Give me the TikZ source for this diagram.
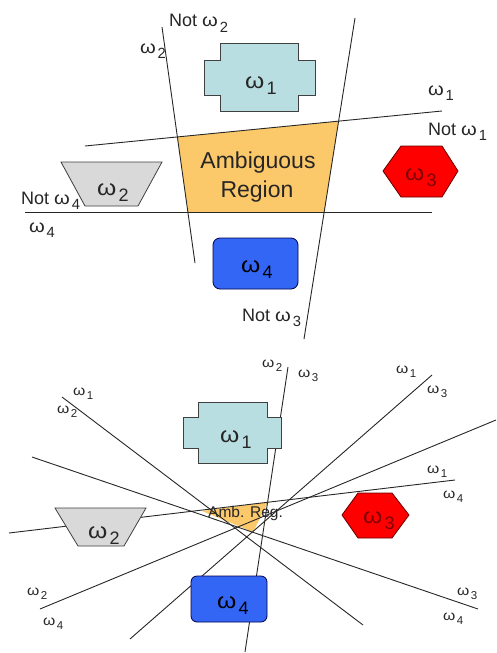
\documentclass[tikz,border=0pt]{standalone}
\usepackage{fontspec}
\setmainfont{Liberation Sans}
\usetikzlibrary{calc}
\newcommand{\ws}[1]{\scalebox{1.12}[1]{ω}\kern0.1em\raisebox{-0.55ex}{\scalebox{0.82}{#1}}}
\definecolor{lblue}{HTML}{B8DEE2}
\definecolor{lgray}{HTML}{D9D9D9}
\definecolor{ambc}{HTML}{FCC96A}
\definecolor{hexred}{HTML}{FF0000}
\definecolor{recblue}{HTML}{3366F5}
\tikzset{
  bline/.style={draw=black!85, line width=0.9pt},
  outl/.style={draw=black!75, line width=0.8pt},
  toplab/.style={anchor=base west, inner sep=0pt, font=\fontsize{18}{20}\selectfont, text=black!85},
  botlab/.style={anchor=base west, inner sep=0pt, font=\fontsize{14}{16}\selectfont, text=black!85},
  shapelab/.style={anchor=base west, inner sep=0pt, font=\fontsize{22}{24}\selectfont, text=black!85},
  c1/.style={outl, fill=lblue},
  c2/.style={outl, fill=lgray},
  c3/.style={draw=red!40!black, line width=0.8pt, fill=hexred},
  c4/.style={draw=blue!30!black, line width=0.8pt, fill=recblue, rounded corners=7pt},
  ambfill/.style={fill=ambc, draw=none},
}
\begin{document}
\begin{tikzpicture}[x=1pt,y=-1pt]
\useasboundingbox (0,0) rectangle (496,653);
% ================= TOP PART =================
\coordinate (a1) at (162,27);  \coordinate (a2) at (195,263);
\coordinate (b1) at (355,18);  \coordinate (b2) at (304,339);
\coordinate (c1) at (85,146);  \coordinate (c2) at (442,111);
\coordinate (d1) at (25,212);  \coordinate (d2) at (432,212);
\coordinate (p1) at (intersection of a1--a2 and c1--c2);
\coordinate (p2) at (intersection of b1--b2 and c1--c2);
\coordinate (p3) at (intersection of b1--b2 and d1--d2);
\coordinate (p4) at (intersection of a1--a2 and d1--d2);
\fill[ambfill] (p1) -- (p2) -- (p3) -- (p4) -- cycle;
\draw[bline] (a1) -- (a2);
\draw[bline] (b1) -- (b2);
\draw[bline] (c1) -- (c2);
\draw[bline] (d1) -- (d2);
% shapes
\draw[c1] (220,43) -- (298,43) -- (298,60) -- (315,60) -- (315,95) -- (298,95)
  -- (298,111) -- (220,111) -- (220,95) -- (204,95) -- (204,60) -- (220,60) -- cycle;
\draw[c2] (61,162) -- (162,162) -- (138,206) -- (85,206) -- cycle;
\draw[c3] (383,171) -- (401,146) -- (442,146) -- (458,171) -- (442,197) -- (401,197) -- cycle;
\draw[c4] (213,238) rectangle (298,289);
% shape labels
\node[shapelab] (tw1) at (245,88) {\ws{1}};
\node[shapelab] (tw2) at (97,195) {\ws{2}};
\node[shapelab, text=red!50!black] (tw3) at (405,180) {\ws{3}};
\node[shapelab, text=black] (tw4) at (241,272) {\ws{4}};
\node[anchor=base, inner sep=0pt, font=\fontsize{23}{25}\selectfont, text=black!85] (amb1) at (258,168) {Ambiguous};
\node[anchor=base, inner sep=0pt, font=\fontsize{23}{25}\selectfont, text=black!85] (amb2) at (257,197) {Region};
% boundary labels
\node[toplab] (tn2) at (169,27) {Not \ws{2}};
\node[toplab] (tp2) at (140,53) {\ws{2}};
\node[toplab] (tp1) at (428,95) {\ws{1}};
\node[toplab] (tn1) at (428,135) {Not \ws{1}};
\node[toplab] (tn4) at (21,204) {Not \ws{4}};
\node[toplab] (tp4) at (29,232) {\ws{4}};
\node[toplab] (tn3) at (242,321) {Not \ws{3}};
% ================= BOTTOM PART =================
\coordinate (l1a) at (288,367); \coordinate (l1b) at (245,652);
\coordinate (l2a) at (62,397);  \coordinate (l2b) at (363,625);
\coordinate (l3a) at (432,375); \coordinate (l3b) at (130,639);
\coordinate (l4a) at (496,420); \coordinate (l4b) at (40,609);
\coordinate (l5a) at (455,480); \coordinate (l5b) at (9,533);
\coordinate (l6a) at (478,609); \coordinate (l6b) at (32,457);
\fill[ambfill] (202,511) -- (268,502) -- (253,532) -- cycle;
\foreach \n in {1,...,6}{\draw[bline] (l\n a) -- (l\n b);}
% shapes
\draw[c1] (198,402) -- (267,402) -- (267,417) -- (281,417) -- (281,448) -- (267,448)
  -- (267,463) -- (198,463) -- (198,448) -- (183,448) -- (183,417) -- (198,417) -- cycle;
\draw[c2] (55,508) -- (146,508) -- (124,546) -- (78,546) -- cycle;
\draw[c3] (342,515) -- (358,493) -- (392,493) -- (409,515) -- (392,538) -- (358,538) -- cycle;
\draw[c4, rounded corners=6pt] (191,576) rectangle (267,622);
% shape labels
\node[shapelab] (bw1) at (220,442) {\ws{1}};
\node[shapelab] (bw2) at (88,538) {\ws{2}};
\node[shapelab, text=red!50!black] (bw3) at (363,523) {\ws{3}};
\node[shapelab, text=black] (bw4) at (217,608) {\ws{4}};
\node[anchor=base west, inner sep=0pt, font=\fontsize{15.5}{17}\selectfont, text=black!85] (ambr) at (208,517) {Amb. Reg.};
% boundary labels
\node[botlab] (b12a) at (262,367) {\ws{2}};
\node[botlab] (b13a) at (298,377) {\ws{3}};
\node[botlab] (b21a) at (396,373) {\ws{1}};
\node[botlab] (b23a) at (427,393) {\ws{3}};
\node[botlab] (b31a) at (73,395) {\ws{1}};
\node[botlab] (b32a) at (57,413) {\ws{2}};
\node[botlab] (b41a) at (427,473) {\ws{1}};
\node[botlab] (b44a) at (443,498) {\ws{4}};
\node[botlab] (b52a) at (27,595) {\ws{2}};
\node[botlab] (b54a) at (43,625) {\ws{4}};
\node[botlab] (b63a) at (457,595) {\ws{3}};
\node[botlab] (b64a) at (443,620) {\ws{4}};
\end{tikzpicture}
\end{document}
